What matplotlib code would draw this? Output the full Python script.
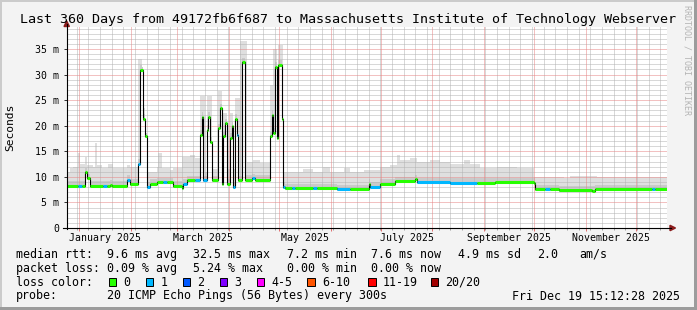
import datetime as dt
import numpy as np
import matplotlib
matplotlib.use("Agg")
import matplotlib.pyplot as plt
import matplotlib.dates as mdates
import matplotlib.transforms as mtransforms
from matplotlib.patches import Polygon, Rectangle

W, H = 697, 310
MONO = "DejaVu Sans Mono"

END = dt.datetime(2025, 12, 19, 15, 12, 28)
SPAN_DAYS = 360
START = END - dt.timedelta(days=SPAN_DAYS)

title = "Last 360 Days from 49172fb6f687 to Massachusetts Institute of Technology Webserver"

# median rtt as steps: day offset from START, median (ms), lost pings out of 20
med_day = [0, 7, 9, 11, 12, 14, 22, 24, 26, 27, 36, 38, 43, 44, 46, 47, 48, 50, 54, 58,
           60, 64, 69, 70, 72, 77, 80, 81, 82, 84, 85, 86, 87, 91, 92, 93, 94, 95, 96, 98,
           99, 100, 101, 102, 103, 105, 107, 111, 113, 122, 123, 124, 125, 126, 127, 129, 130, 131, 135, 137,
           148, 150, 162, 170, 181, 182, 188, 197, 209, 210, 230, 246, 257, 280, 281, 287, 290, 295, 315, 317,
           351, 353]
med_ms = [8.2, 8.2, 8.2, 10.9, 9.7, 8.2, 8.2, 8.2, 8.5, 8.2, 9.4, 8.6, 12.6, 30.9, 21.3, 17.9, 8.0, 8.6, 8.9, 8.9,
          8.9, 8.2, 7.8, 8.7, 9.3, 9.3, 18.2, 21.8, 9.3, 19.2, 21.8, 16.9, 9.3, 19.5, 23.4, 8.7, 17.9, 20.5, 8.7, 17.6,
          19.9, 8.0, 21.3, 18.2, 9.3, 32.4, 9.4, 9.7, 9.4, 17.9, 22.1, 18.6, 31.5, 17.5, 31.9, 21.4, 8.0, 7.75, 7.75, 7.75,
          7.75, 7.75, 7.55, 7.55, 8.6, 8.0, 8.6, 9.1, 9.5, 8.9, 8.8, 8.85, 8.9, 8.8, 7.6, 7.6, 7.6, 7.4, 7.3, 7.55,
          7.55, 7.55]
med_loss = [0, 1, 0, 0, 0, 0, 1, 0, 0, 0, 1, 0, 1, 0, 0, 0, 1, 0, 0, 1,
            0, 0, 0, 1, 0, 1, 0, 0, 1, 0, 0, 0, 0, 0, 0, 0, 0, 0, 0, 0,
            0, 1, 0, 1, 0, 0, 0, 1, 0, 0, 0, 0, 0, 0, 0, 0, 1, 0, 1, 0,
            1, 0, 1, 0, 0, 1, 0, 0, 0, 1, 1, 0, 0, 0, 0, 1, 0, 0, 0, 0,
            1, 0]

# upper edge of the smoke (slowest pings), steps: day offset, ms
smoke_day = [0, 2, 4, 7, 8, 11, 12, 16, 17, 18, 21, 25, 28, 36, 38, 43, 45, 47, 54, 55,
             57, 62, 64, 69, 74, 77, 80, 83, 84, 87, 91, 93, 94, 96, 98, 100, 101, 104, 108, 112,
             116, 122, 124, 126, 127, 130, 142, 148, 154, 158, 166, 170, 178, 188, 194, 198, 200, 206, 210, 218,
             224, 230, 238, 242, 248, 258, 270, 280, 298, 302, 318, 328, 348]
smoke_top = [11.0, 11.7, 12.0, 14.6, 12.6, 13.9, 12.3, 12.0, 16.6, 12.3, 11.7, 12.6, 11.7, 12.3, 12.0, 33.0, 23.5, 11.0, 12.0, 14.6,
             11.7, 11.3, 11.7, 13.9, 14.3, 13.6, 25.8, 11.0, 25.8, 11.5, 26.7, 11.5, 22.5, 11.5, 22.5, 11.5, 25.4, 36.6, 13.0, 13.3,
             12.8, 28.0, 35.0, 30.0, 35.8, 11.0, 11.5, 11.0, 11.9, 11.0, 11.7, 11.0, 11.3, 12.0, 12.3, 14.3, 13.3, 13.6, 13.0, 13.3,
             13.0, 12.6, 13.3, 12.6, 11.7, 12.0, 11.7, 10.0, 9.7, 10.2, 9.9, 10.0, 9.9]

loss_labels = ["0", "1", "2", "3", "4-5", "6-10", "11-19", "20/20"]
loss_colors = ["#26ff00", "#00b8ff", "#0059ff", "#7e00ff", "#ff00ff", "#ff5500", "#ff0000", "#a10000"]

rtt_stats = ["9.6 ms avg", "32.5 ms max", "7.2 ms min", "7.6 ms now", "4.9 ms sd", "2.0", "am/s"]
loss_stats = ["0.09 % avg", "5.24 % max", "0.00 % min", "0.00 % now"]
probe_text = "20 ICMP Echo Pings (56 Bytes) every 300s"
stamp_text = "Fri Dec 19 15:12:28 2025"


def fx(x):
    return x / W


def fy(y):
    return 1 - y / H


def step_lookup(days, vals, at):
    idx = np.searchsorted(np.array(days), at, side="right") - 1
    return np.array(vals, float)[idx]


fig = plt.figure(figsize=(W / 100, H / 100), dpi=100, facecolor="#f3f3f3")
ax = fig.add_axes([fx(66.7), fy(228), (667 - 66.7) / W, (228 - 27) / H])
ax.set_facecolor("white")
for s in ax.spines.values():
    s.set_visible(False)

x0 = mdates.date2num(START)
ax.set_xlim(x0, x0 + SPAN_DAYS)
ax.set_ylim(0, 39.3)

# smoke
grid_days = np.array(sorted(set(med_day) | set(smoke_day)), float)
g_med = step_lookup(med_day, med_ms, grid_days)
g_top = np.maximum(step_lookup(smoke_day, smoke_top, grid_days), g_med + 0.6)
g_lo = g_med - 0.3
g_mid = np.minimum(g_med + 0.9, g_top)
gx = x0 + np.append(grid_days, SPAN_DAYS)
ax.fill_between(gx, np.append(g_lo, g_lo[-1]), np.append(g_top, g_top[-1]),
                step="post", color="#dfdfdf", lw=0, zorder=1)
ax.fill_between(gx, np.append(g_lo, g_lo[-1]), np.append(g_mid, g_mid[-1]),
                step="post", color="#cacaca", lw=0, zorder=1.1)

# grid
mondays = [mdates.date2num(d) for d in mdates.rrulewrapper(
    mdates.WEEKLY, byweekday=mdates.MO, dtstart=START, until=END).between(START, END)]
for d in mondays:
    ax.axvline(d, color="#b2b2b2", lw=0.72, ls=(0, (1, 1)), zorder=2)
for v in range(1, 40):
    if v % 5:
        ax.axhline(v, color="#b2b2b2", lw=0.72, ls=(0, (1, 1)), zorder=2)
month_starts = [mdates.date2num(dt.datetime(2025, m, 1)) for m in range(1, 13)]
for d in month_starts:
    ax.axvline(d, color="#e68585", lw=0.72, ls=(0, (1, 1)), zorder=2.1)
for v in range(5, 40, 5):
    ax.axhline(v, color="#e68585", lw=0.72, ls=(0, (1, 1)), zorder=2.1)

# median line and loss colours
edges = x0 + np.array(med_day + [SPAN_DAYS], float)
ax.step(edges, med_ms + [med_ms[-1]], where="post", color="black", lw=0.8, zorder=3)
ax.hlines(med_ms, edges[:-1], edges[1:], colors=[loss_colors[l] for l in med_loss],
          lw=2.2, zorder=4, capstyle="butt")

# ticks
ax.set_xticks(month_starts)
ax.set_xticks(mondays, minor=True)
ax.tick_params(axis="x", which="major", length=2.2, width=0.72, color="#e07070", labelbottom=False)
ax.tick_params(axis="x", which="minor", length=1.5, width=0.72, color="#a0a0a0")
ax.set_yticks(range(0, 40, 5))
ax.set_yticklabels(["0"] + [f"{v} m" for v in range(5, 40, 5)], family=MONO, fontsize=7.1)
ax.tick_params(axis="y", length=2.2, width=0.72, color="#333333", pad=3.2)

lab_tr = mtransforms.blended_transform_factory(ax.transData, fig.transFigure)
for m in range(1, 12, 2):
    a = mdates.date2num(dt.datetime(2025, m, 1))
    b = mdates.date2num(dt.datetime(2025, m + 1, 1))
    ax.text((a + b) / 2, fy(238.3), dt.datetime(2025, m, 1).strftime("%B %Y"), transform=lab_tr,
            ha="center", va="center", family=MONO, fontsize=7.1)

# axes with arrows
ax_col = "#8b1c1c"
fig.add_artist(plt.Line2D([fx(66.7), fx(66.7)], [fy(228.5), fy(24)], color="black", lw=0.8))
fig.add_artist(plt.Line2D([fx(63), fx(671)], [fy(228), fy(228)], color="black", lw=0.8))
fig.add_artist(Polygon([(fx(66.7), fy(21)), (fx(64), fy(26.5)), (fx(69.4), fy(26.5))],
                       closed=True, color=ax_col, transform=fig.transFigure))
fig.add_artist(Polygon([(fx(675.5), fy(228)), (fx(670), fy(225.3)), (fx(670), fy(230.7))],
                       closed=True, color=ax_col, transform=fig.transFigure))

# title, axis label, watermark
fig.text(fx(348), fy(19), title, ha="center", va="center", family=MONO, fontsize=9.6)
fig.text(fx(10), fy(127), "Seconds", rotation=90, ha="center", va="center", family=MONO, fontsize=8.1)
fig.text(fx(687.5), fy(5), "RRDTOOL / TOBI OETIKER", rotation=270, ha="center", va="top",
         family=MONO, fontsize=6, color="#b4b4b4")

# legend rows
fs = 8.35
row1 = [16, 107.3, 193.3, 286.7, 371, 458.3, 537.3, 579.3]
for x, t in zip(row1, ["median rtt:"] + rtt_stats):
    fig.text(fx(x), fy(254.3), t, ha="left", va="center", family=MONO, fontsize=fs)
row2 = [16, 107.3, 193.3, 286.7, 371]
for x, t in zip(row2, ["packet loss:"] + loss_stats):
    fig.text(fx(x), fy(268.3), t, ha="left", va="center", family=MONO, fontsize=fs)
fig.text(fx(16), fy(282.3), "loss color:", ha="left", va="center", family=MONO, fontsize=fs)
box_x = [108.7, 145.7, 182.7, 219.7, 256.7, 307.3, 368.3, 430.7]
for bx, lab, col in zip(box_x, loss_labels, loss_colors):
    fig.add_artist(Rectangle((fx(bx), fy(286.3)), 7.3 / W, 8 / H, facecolor=col,
                             edgecolor="black", lw=0.7, transform=fig.transFigure))
    fig.text(fx(bx + 14.5), fy(282.3), lab, ha="left", va="center", family=MONO, fontsize=fs)
fig.text(fx(16), fy(296), "probe:", ha="left", va="center", family=MONO, fontsize=fs)
fig.text(fx(107.3), fy(296), probe_text, ha="left", va="center", family=MONO, fontsize=fs)
fig.text(fx(680), fy(296), stamp_text, ha="right", va="center", family=MONO, fontsize=fs)

# frame shading
fig.add_artist(Rectangle((0, fy(2)), 1, 2 / H, color="#cbcbcb", transform=fig.transFigure, lw=0))
fig.add_artist(Rectangle((0, 0), 2 / W, 1, color="#cbcbcb", transform=fig.transFigure, lw=0))
fig.add_artist(Rectangle((fx(694), 0), 3 / W, 1, color="#9c9c9c", transform=fig.transFigure, lw=0))
fig.add_artist(Rectangle((0, 0), 1, 3 / H, color="#9c9c9c", transform=fig.transFigure, lw=0))

fig.savefig("out.png", dpi=100, facecolor=fig.get_facecolor())
